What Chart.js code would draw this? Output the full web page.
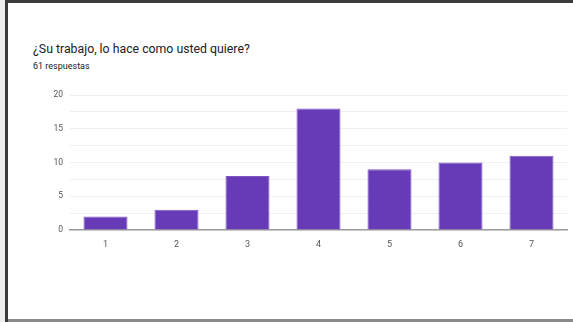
<!DOCTYPE html>
<html>
<head>
<meta charset="utf-8">
<script src="https://cdn.jsdelivr.net/npm/chart.js@4.4.1/dist/chart.umd.min.js"></script>
<style>
  html, body { margin: 0; padding: 0; background: #fff; }
  body { width: 573px; height: 322px; position: relative; overflow: hidden; font-family: Roboto, "Noto Sans", Arial, sans-serif; }
  #strip { position: absolute; left: 0; top: 0; width: 5px; height: 322px; background: #eeeeee; }
  #lborder { position: absolute; left: 5px; top: 0; width: 3px; height: 322px; background: #3a3a3a; }
  #tborder { position: absolute; left: 5px; top: 0; width: 568px; height: 3px; background: #3a3a3a; }
  #bborder { position: absolute; left: 8px; top: 319px; width: 565px; height: 3px; background: #8a8a8a; }
  #title { position: absolute; left: 33px; top: 42px; font-size: 12.3px; color: #202124; white-space: nowrap; }
  #sub { position: absolute; left: 33px; top: 61px; font-size: 9px; color: #202124; white-space: nowrap; }
  #wrap { position: absolute; left: 0; top: 0; width: 573px; height: 322px; }
</style>
</head>
<body>
<div id="strip"></div>
<div id="lborder"></div>
<div id="tborder"></div>
<div id="bborder"></div>
<div id="title">¿Su trabajo, lo hace como usted quiere?</div>
<div id="sub">61 respuestas</div>
<div id="wrap"><canvas id="c"></canvas></div>
<script>
const categories = ["1", "2", "3", "4", "5", "6", "7"];
const responses = [2, 3, 8, 18, 9, 10, 11];
const yTickLabels = [0, 5, 10, 15, 20];

new Chart(document.getElementById('c'), {
  type: 'bar',
  data: {
    labels: categories,
    datasets: [{
      data: responses,
      backgroundColor: '#673ab7',
      borderColor: '#7e57c2',
      borderWidth: 1,
      categoryPercentage: 1,
      barPercentage: 0.62
    }]
  },
  options: {
    responsive: true,
    maintainAspectRatio: false,
    animation: false,
    layout: { padding: { left: 40, right: 6, top: 95, bottom: 68 } },
    plugins: { legend: { display: false }, tooltip: { enabled: false }, title: { display: false } },
    scales: {
      x: {
        grid: { display: false },
        border: { display: true, color: '#9e9e9e', width: 1.5 },
        ticks: { color: '#555', font: { size: 9, family: 'Roboto' }, padding: 1, maxRotation: 0, autoSkip: false },
        afterFit: s => { s.height = 24; }
      },
      y: {
        min: 0, max: 20,
        border: { display: false },
        grid: { color: '#f0f0f0', drawTicks: false },
        ticks: {
          stepSize: 2.5,
          color: '#555',
          font: { size: 8.5, family: 'Roboto' },
          padding: 7,
          callback: v => yTickLabels.includes(v) ? String(v) : ''
        },
        afterFit: s => { s.width = 30; }
      }
    }
  }
});
</script>
</body>
</html>
